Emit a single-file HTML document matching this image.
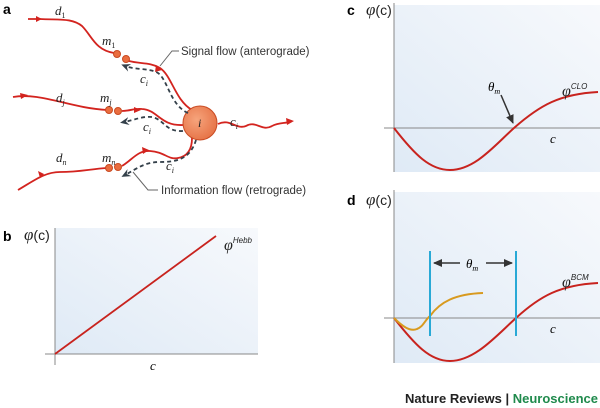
<!DOCTYPE html>
<html><head><meta charset="utf-8"><style>
body{margin:0;background:#fff;}
svg{display:block;font-family:"Liberation Sans",sans-serif;}
.it{font-family:"Liberation Serif",serif;font-style:italic;}
</style></head><body>
<svg width="600" height="408" viewBox="0 0 600 408">
<defs>
<linearGradient id="bg" x1="0" y1="1" x2="1" y2="0">
<stop offset="0" stop-color="#dfeaf6"/><stop offset="1" stop-color="#f7f9fc"/>
</linearGradient>
<radialGradient id="ng" cx="0.4" cy="0.4" r="0.6">
<stop offset="0" stop-color="#f6a47c"/><stop offset="1" stop-color="#e7764a"/>
</radialGradient>
<marker id="da" markerWidth="10" markerHeight="10" refX="5" refY="5" orient="auto" markerUnits="userSpaceOnUse"><path d="M0,1 L9,5 L0,9 L3,5 Z" fill="#34404a"/></marker>
<marker id="ka" markerWidth="10" markerHeight="10" refX="8" refY="5" orient="auto" markerUnits="userSpaceOnUse"><path d="M0,1 L9,5 L0,9 Z" fill="#333"/></marker>
</defs>

<!-- panel a -->
<text x="3" y="14" font-weight="bold" font-size="14">a</text>
<g fill="none" stroke="#d3241f" stroke-width="1.8">
<path d="M28,19 L40,19 C60,20 72,18 82,26 C92,36 95,50 114,53"/>
<path d="M129,61 C140,64 150,62 160,68 C172,76 175,100 192,110"/>
<path d="M13,97 C40,92 70,108 107,110"/>
<path d="M122,111 C130,111 135,108 142,109 C158,110 160,126 183,125"/>
<path d="M18,190 C35,180 45,172 60,172 C80,172 90,169 107,168"/>
<path d="M122,166 C132,160 138,150 150,151 C165,152 168,160 178,158 C190,156 192,146 192,138"/>
<path d="M218,124 C230,118 236,130 246,126 C256,120 262,132 272,126 C280,122 285,124 292,121"/>
</g>
<path d="M36,16 L42,19 L36,22 Z" fill="#d3241f"/>
<path d="M20,93 L28,95 L21,99 Z" fill="#d3241f"/>
<path d="M38,171 L44,174 L40,178 Z" fill="#d3241f"/>
<path d="M156,65 L162,70 L155,72 Z" fill="#d3241f"/>
<path d="M134,107 L141,110 L134,113 Z" fill="#d3241f"/>
<path d="M142,147 L149,150 L143,154 Z" fill="#d3241f"/>
<path d="M286,118 L294,121 L287,125 Z" fill="#d3241f"/>
<g fill="#ea6d3f" stroke="#c94a22" stroke-width="1">
<circle cx="117" cy="54" r="3.5"/><circle cx="126" cy="59" r="3.5"/>
<circle cx="109" cy="110" r="3.5"/><circle cx="118" cy="111" r="3.5"/>
<circle cx="109" cy="168" r="3.5"/><circle cx="118" cy="167" r="3.5"/>
</g>
<circle cx="200" cy="123" r="17" fill="url(#ng)" stroke="#c94a22" stroke-width="1"/>
<g fill="none" stroke="#34404a" stroke-width="1.8" stroke-dasharray="4,3">
<path d="M188,113 C170,105 168,80 158,73 C150,68 135,70 125,66" marker-end="url(#da)"/>
<path d="M183,131 C165,132 165,120 152,117 C142,116 135,120 124,122" marker-end="url(#da)"/>
<path d="M196,140 C190,160 175,162 160,162 C145,162 138,168 125,175" marker-end="url(#da)"/>
</g>
<g stroke="#666" fill="none" stroke-width="1"><path d="M160,66 L172,51 L179,51"/><path d="M133,172 L148,190 L158,190"/></g>
<text x="181" y="55" font-size="11.5" fill="#333">Signal flow (anterograde)</text>
<text x="161" y="194" font-size="11.5" fill="#333">Information flow (retrograde)</text>
<g class="it" font-size="13" fill="#222">
<text x="55" y="15">d<tspan font-size="8" dy="3" font-style="normal">1</tspan></text>
<text x="102" y="45">m<tspan font-size="8" dy="3" font-style="normal">1</tspan></text>
<text x="140" y="83">c<tspan font-size="8" dy="3">i</tspan></text>
<text x="56" y="102">d<tspan font-size="8" dy="3">j</tspan></text>
<text x="100" y="102">m<tspan font-size="8" dy="3">j</tspan></text>
<text x="143" y="131">c<tspan font-size="8" dy="3">i</tspan></text>
<text x="56" y="162">d<tspan font-size="8" dy="3">n</tspan></text>
<text x="102" y="162">m<tspan font-size="8" dy="3">n</tspan></text>
<text x="166" y="170">c<tspan font-size="8" dy="3">i</tspan></text>
<text x="198" y="127" font-size="12">i</text>
<text x="230" y="126">c<tspan font-size="8" dy="3">i</tspan></text>
</g>

<!-- panel b -->
<text x="3" y="241" font-weight="bold" font-size="14">b</text>
<rect x="55" y="228" width="203" height="126" fill="url(#bg)"/>
<g stroke="#888" stroke-width="1"><line x1="55" y1="228" x2="55" y2="365"/><line x1="45" y1="354" x2="258" y2="354"/></g>
<line x1="55" y1="354" x2="216" y2="236" stroke="#c8231e" stroke-width="1.8"/>
<text x="24" y="240" font-size="14" fill="#222"><tspan class="it" font-size="17">φ</tspan>(c)</text>
<text x="224" y="250" class="it" font-size="16" fill="#222">φ<tspan font-size="8" dy="-7" font-family="Liberation Sans">Hebb</tspan></text>
<text x="150" y="370" class="it" font-size="13">c</text>

<!-- panel c -->
<text x="347" y="15" font-weight="bold" font-size="14">c</text>
<rect x="394" y="5" width="206" height="167" fill="url(#bg)"/>
<g stroke="#888" stroke-width="1"><line x1="394" y1="3" x2="394" y2="172"/><line x1="384" y1="128" x2="600" y2="128"/></g>
<path d="M394,128 C415,155 430,170 450,170 C475,170 495,145 514,128 C540,105 560,94 598,92" fill="none" stroke="#c8231e" stroke-width="2"/>
<text x="366" y="15" font-size="14" fill="#222"><tspan class="it" font-size="17">φ</tspan>(c)</text>
<text x="488" y="91" class="it" font-size="13">θ<tspan font-size="8" dy="3">m</tspan></text>
<line x1="501" y1="95" x2="513" y2="123" stroke="#333" stroke-width="1.5" marker-end="url(#ka)"/>
<text x="562" y="96" class="it" font-size="16" fill="#222">φ<tspan font-size="8" dy="-7" font-family="Liberation Sans">CLO</tspan></text>
<text x="550" y="143" class="it" font-size="13">c</text>

<!-- panel d -->
<text x="347" y="205" font-weight="bold" font-size="14">d</text>
<rect x="394" y="192" width="206" height="171" fill="url(#bg)"/>
<g stroke="#888" stroke-width="1"><line x1="394" y1="190" x2="394" y2="363"/><line x1="384" y1="318" x2="600" y2="318"/></g>
<path d="M394,318 C415,345 430,361 450,361 C475,361 497,335 516,318 C540,296 560,285 598,283" fill="none" stroke="#c8231e" stroke-width="2"/>
<path d="M394,318 C402,326 410,332 417,329 C423,327 425,320 430,316 C440,302 455,294 483,293" fill="none" stroke="#d89a1f" stroke-width="2"/>
<g stroke="#29a9d6" stroke-width="2"><line x1="430" y1="251" x2="430" y2="336"/><line x1="516" y1="251" x2="516" y2="336"/></g>
<line x1="460" y1="263" x2="434" y2="263" stroke="#333" stroke-width="1.5" marker-end="url(#ka)"/>
<line x1="486" y1="263" x2="512" y2="263" stroke="#333" stroke-width="1.5" marker-end="url(#ka)"/>
<text x="466" y="268" class="it" font-size="13">θ<tspan font-size="8" dy="3">m</tspan></text>
<text x="366" y="205" font-size="14" fill="#222"><tspan class="it" font-size="17">φ</tspan>(c)</text>
<text x="562" y="287" class="it" font-size="16" fill="#222">φ<tspan font-size="8" dy="-7" font-family="Liberation Sans">BCM</tspan></text>
<text x="550" y="333" class="it" font-size="13">c</text>

<text x="598" y="403" text-anchor="end" font-size="13" font-weight="bold" fill="#222">Nature Reviews | <tspan fill="#1f8a4c">Neuroscience</tspan></text>
</svg>
</body></html>
